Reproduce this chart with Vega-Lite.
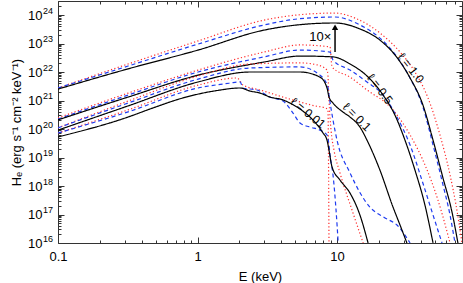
{
  "$schema": "https://vega.github.io/schema/vega-lite/v6.json",
  "width": 404,
  "height": 242,
  "autosize": "none",
  "padding": {"left": 58, "top": 1, "right": 1, "bottom": 40},
  "config": {
    "view": {"stroke": "#333", "strokeWidth": 1},
    "font": "Liberation Sans",
    "axis": {"domain": false, "grid": false, "tickColor": "#333", "tickWidth": 1, "labelColor": "#000", "titleColor": "#000", "labelFont": "Liberation Sans", "titleFont": "Liberation Sans", "labelFontSize": 13, "titleFontSize": 13, "titleFontWeight": "normal"}
  },
  "datasets": {
    "curves": [
      {"l":"1.0","s":"c","E":0.1,"H":2.75e21},{"l":"1.0","s":"c","E":0.318,"H":1.91e22},{"l":"1.0","s":"c","E":1.01,"H":1.23e23},{"l":"1.0","s":"c","E":3.0,"H":6.61e23},{"l":"1.0","s":"c","E":5.17,"H":1.0e24},{"l":"1.0","s":"c","E":9.68,"H":1.17e24},{"l":"1.0","s":"c","E":13.5,"H":7.76e23},{"l":"1.0","s":"c","E":20.3,"H":2.34e23},{"l":"1.0","s":"c","E":28.3,"H":5.01e22},{"l":"1.0","s":"c","E":36.2,"H":1.0e22},{"l":"1.0","s":"c","E":44.9,"H":1.23e21},{"l":"1.0","s":"c","E":54.7,"H":6.17e19},{"l":"1.0","s":"c","E":64.6,"H":2.45e18},{"l":"1.0","s":"c","E":71.3,"H":2.14e17},{"l":"1.0","s":"c","E":78.7,"H":1.0e16},
      {"l":"1.0","s":"b","E":0.1,"H":2.75e21},{"l":"1.0","s":"b","E":0.318,"H":1.62e22},{"l":"1.0","s":"b","E":1.01,"H":9.55e22},{"l":"1.0","s":"b","E":3.0,"H":4.47e23},{"l":"1.0","s":"b","E":5.17,"H":7.24e23},{"l":"1.0","s":"b","E":9.68,"H":8.51e23},{"l":"1.0","s":"b","E":14.6,"H":4.47e23},{"l":"1.0","s":"b","E":20.3,"H":1.55e23},{"l":"1.0","s":"b","E":26.0,"H":4.27e22},{"l":"1.0","s":"b","E":33.4,"H":6.17e21},{"l":"1.0","s":"b","E":41.3,"H":5.89e20},{"l":"1.0","s":"b","E":48.8,"H":2.75e19},{"l":"1.0","s":"b","E":57.5,"H":1.1e18},{"l":"1.0","s":"b","E":64.6,"H":9.55e16},{"l":"1.0","s":"b","E":70.1,"H":1.0e16},
      {"l":"1.0","s":"a","E":0.1,"H":2.51e21},{"l":"1.0","s":"a","E":0.318,"H":1.29e22},{"l":"1.0","s":"a","E":1.01,"H":5.89e22},{"l":"1.0","s":"a","E":3.0,"H":2.95e23},{"l":"1.0","s":"a","E":5.17,"H":4.47e23},{"l":"1.0","s":"a","E":9.68,"H":5.25e23},{"l":"1.0","s":"a","E":14.6,"H":3.24e23},{"l":"1.0","s":"a","E":20.3,"H":1.32e23},{"l":"1.0","s":"a","E":26.0,"H":3.98e22},{"l":"1.0","s":"a","E":33.4,"H":6.17e21},{"l":"1.0","s":"a","E":41.3,"H":6.92e20},{"l":"1.0","s":"a","E":48.8,"H":4.07e19},{"l":"1.0","s":"a","E":57.5,"H":1.91e18},{"l":"1.0","s":"a","E":66.7,"H":1.23e17},{"l":"1.0","s":"a","E":73.6,"H":1.0e16},
      {"l":"0.5","s":"c","E":0.1,"H":2.45e20},{"l":"0.5","s":"c","E":0.318,"H":1.82e21},{"l":"0.5","s":"c","E":1.01,"H":1.17e22},{"l":"0.5","s":"c","E":3.0,"H":5.01e22},{"l":"0.5","s":"c","E":5.43,"H":8.91e22},{"l":"0.5","s":"c","E":8.91,"H":7.59e22},{"l":"0.5","s":"c","E":9.21,"H":1.51e22},{"l":"0.5","s":"c","E":12.4,"H":6.61e21},{"l":"0.5","s":"c","E":16.4,"H":2.34e21},{"l":"0.5","s":"c","E":25.2,"H":4.68e20},{"l":"0.5","s":"c","E":33.4,"H":6.17e19},{"l":"0.5","s":"c","E":42.7,"H":5.5e18},{"l":"0.5","s":"c","E":52.9,"H":3.24e17},{"l":"0.5","s":"c","E":64.6,"H":1.0e16},
      {"l":"0.5","s":"b","E":0.1,"H":2.24e20},{"l":"0.5","s":"b","E":0.318,"H":1.55e21},{"l":"0.5","s":"b","E":1.01,"H":1.0e22},{"l":"0.5","s":"b","E":3.0,"H":3.39e22},{"l":"0.5","s":"b","E":5.43,"H":5.89e22},{"l":"0.5","s":"b","E":8.91,"H":5.01e22},{"l":"0.5","s":"b","E":9.36,"H":2.63e22},{"l":"0.5","s":"b","E":12.4,"H":1.17e22},{"l":"0.5","s":"b","E":16.4,"H":4.47e21},{"l":"0.5","s":"b","E":21.4,"H":1.55e21},{"l":"0.5","s":"b","E":26.9,"H":2.63e20},{"l":"0.5","s":"b","E":33.4,"H":2.75e19},{"l":"0.5","s":"b","E":40.6,"H":1.62e18},{"l":"0.5","s":"b","E":48.0,"H":1.23e17},{"l":"0.5","s":"b","E":56.6,"H":1.0e16},
      {"l":"0.5","s":"a","E":0.1,"H":2.09e20},{"l":"0.5","s":"a","E":0.318,"H":1.32e21},{"l":"0.5","s":"a","E":1.01,"H":7.76e21},{"l":"0.5","s":"a","E":3.0,"H":2.24e22},{"l":"0.5","s":"a","E":5.43,"H":3.63e22},{"l":"0.5","s":"a","E":9.36,"H":3.39e22},{"l":"0.5","s":"a","E":12.4,"H":1.91e22},{"l":"0.5","s":"a","E":16.4,"H":7.24e21},{"l":"0.5","s":"a","E":21.4,"H":1.55e21},{"l":"0.5","s":"a","E":26.0,"H":3.09e20},{"l":"0.5","s":"a","E":30.7,"H":4.07e19},{"l":"0.5","s":"a","E":36.2,"H":3.63e18},{"l":"0.5","s":"a","E":42.7,"H":2.14e17},{"l":"0.5","s":"a","E":48.8,"H":1.0e16},
      {"l":"0.1","s":"c","E":0.1,"H":1.1e20},{"l":"0.1","s":"c","E":0.318,"H":9.55e20},{"l":"0.1","s":"c","E":1.01,"H":7.24e21},{"l":"0.1","s":"c","E":2.38,"H":1.91e22},{"l":"0.1","s":"c","E":5.43,"H":2.09e22},{"l":"0.1","s":"c","E":7.19,"H":1.78e22},{"l":"0.1","s":"c","E":8.48,"H":1.17e22},{"l":"0.1","s":"c","E":8.61,"H":7.76e21},{"l":"0.1","s":"c","E":8.76,"H":1.05e21},{"l":"0.1","s":"c","E":9.06,"H":9.12e19},{"l":"0.1","s":"c","E":9.51,"H":1.82e19},{"l":"0.1","s":"c","E":10.5,"H":2.88e18},{"l":"0.1","s":"c","E":12.8,"H":1.45e17},{"l":"0.1","s":"c","E":15.4,"H":1.0e16},
      {"l":"0.1","s":"b","E":0.1,"H":1.1e20},{"l":"0.1","s":"b","E":0.318,"H":8.13e20},{"l":"0.1","s":"b","E":1.01,"H":5.62e21},{"l":"0.1","s":"b","E":2.38,"H":1.38e22},{"l":"0.1","s":"b","E":5.43,"H":1.51e22},{"l":"0.1","s":"b","E":7.55,"H":7.76e21},{"l":"0.1","s":"b","E":8.61,"H":2.95e21},{"l":"0.1","s":"b","E":8.76,"H":1.55e21},{"l":"0.1","s":"b","E":9.36,"H":2.09e20},{"l":"0.1","s":"b","E":10.0,"H":4.07e19},{"l":"0.1","s":"b","E":12.4,"H":2.88e18},{"l":"0.1","s":"b","E":17.2,"H":1.82e17},{"l":"0.1","s":"b","E":22.1,"H":7.59e16},{"l":"0.1","s":"b","E":26.9,"H":4.27e16},{"l":"0.1","s":"b","E":33.4,"H":1.0e16},
      {"l":"0.1","s":"a","E":0.1,"H":9.12e19},{"l":"0.1","s":"a","E":0.318,"H":6.46e20},{"l":"0.1","s":"a","E":1.01,"H":4.47e21},{"l":"0.1","s":"a","E":2.38,"H":1.0e22},{"l":"0.1","s":"a","E":5.43,"H":1.0e22},{"l":"0.1","s":"a","E":7.55,"H":6.61e21},{"l":"0.1","s":"a","E":8.48,"H":2.75e21},{"l":"0.1","s":"a","E":8.76,"H":1.32e21},{"l":"0.1","s":"a","E":9.36,"H":8.13e20},{"l":"0.1","s":"a","E":11.0,"H":3.98e20},{"l":"0.1","s":"a","E":12.4,"H":2.63e20},{"l":"0.1","s":"a","E":14.6,"H":1.17e20},{"l":"0.1","s":"a","E":16.4,"H":4.07e19},{"l":"0.1","s":"a","E":20.3,"H":3.63e18},{"l":"0.1","s":"a","E":25.2,"H":1.82e17},{"l":"0.1","s":"a","E":28.3,"H":4.27e16},{"l":"0.1","s":"a","E":31.7,"H":1.0e16},
      {"l":"0.01","s":"c","E":0.1,"H":7.24e19},{"l":"0.01","s":"c","E":0.318,"H":4.68e20},{"l":"0.01","s":"c","E":1.01,"H":3.47e21},{"l":"0.01","s":"c","E":1.92,"H":6.17e21},{"l":"0.01","s":"c","E":2.12,"H":3.47e21},{"l":"0.01","s":"c","E":2.81,"H":2.34e21},{"l":"0.01","s":"c","E":4.1,"H":1.32e21},{"l":"0.01","s":"c","E":5.43,"H":8.91e20},{"l":"0.01","s":"c","E":6.95,"H":6.46e20},{"l":"0.01","s":"c","E":8.2,"H":5.5e20},{"l":"0.01","s":"c","E":8.61,"H":4.68e20},{"l":"0.01","s":"c","E":8.76,"H":1.0e16},
      {"l":"0.01","s":"b","E":0.1,"H":7.24e19},{"l":"0.01","s":"b","E":0.318,"H":3.98e20},{"l":"0.01","s":"b","E":1.01,"H":2.75e21},{"l":"0.01","s":"b","E":1.71,"H":4.07e21},{"l":"0.01","s":"b","E":2.02,"H":4.47e21},{"l":"0.01","s":"b","E":2.12,"H":2.75e21},{"l":"0.01","s":"b","E":2.67,"H":2.34e21},{"l":"0.01","s":"b","E":3.31,"H":1.32e21},{"l":"0.01","s":"b","E":4.1,"H":9.55e20},{"l":"0.01","s":"b","E":4.84,"H":3.63e20},{"l":"0.01","s":"b","E":5.43,"H":1.62e20},{"l":"0.01","s":"b","E":6.4,"H":1.17e20},{"l":"0.01","s":"b","E":7.55,"H":9.12e19},{"l":"0.01","s":"b","E":8.48,"H":6.17e19},{"l":"0.01","s":"b","E":8.76,"H":2.75e19},{"l":"0.01","s":"b","E":8.91,"H":1.23e19},{"l":"0.01","s":"b","E":9.36,"H":2.45e18},{"l":"0.01","s":"b","E":9.84,"H":1.45e17},{"l":"0.01","s":"b","E":10.2,"H":1.0e16},
      {"l":"0.01","s":"a","E":0.1,"H":5.25e19},{"l":"0.01","s":"a","E":0.318,"H":2.63e20},{"l":"0.01","s":"a","E":0.456,"H":5.01e20},{"l":"0.01","s":"a","E":0.787,"H":1.23e21},{"l":"0.01","s":"a","E":1.38,"H":2.24e21},{"l":"0.01","s":"a","E":2.02,"H":2.75e21},{"l":"0.01","s":"a","E":2.38,"H":2.14e21},{"l":"0.01","s":"a","E":2.81,"H":1.82e21},{"l":"0.01","s":"a","E":3.31,"H":1.32e21},{"l":"0.01","s":"a","E":4.1,"H":1.05e21},{"l":"0.01","s":"a","E":4.6,"H":8.13e20},{"l":"0.01","s":"a","E":5.43,"H":5.01e20},{"l":"0.01","s":"a","E":6.4,"H":2.63e20},{"l":"0.01","s":"a","E":7.31,"H":1.29e20},{"l":"0.01","s":"a","E":7.94,"H":7.24e19},{"l":"0.01","s":"a","E":8.48,"H":4.07e19},{"l":"0.01","s":"a","E":8.76,"H":1.82e19},{"l":"0.01","s":"a","E":9.21,"H":4.68e18},{"l":"0.01","s":"a","E":10.5,"H":1.62e18},{"l":"0.01","s":"a","E":12.4,"H":5.62e17},{"l":"0.01","s":"a","E":14.6,"H":9.55e16},{"l":"0.01","s":"a","E":16.7,"H":1.0e16}
    ],
    "labels": [
      {"t":"ℓ = 1.0","E":33.9,"H":1.38e22},
      {"t":"ℓ = 0.5","E":20.3,"H":2.51e21},
      {"t":"ℓ = 0.1","E":13.9,"H":2.63e20},
      {"t":"ℓ = 0.01","E":6.2,"H":3.63e20}
    ]
  },
  "layer": [
    {
      "data": {"name": "curves"},
      "mark": {"type": "line", "strokeWidth": 1.2, "clip": true, "interpolate": "monotone"},
      "encoding": {
        "x": {"field": "E", "type": "quantitative", "scale": {"type": "log", "domain": [0.1, 78.7], "nice": false},
              "axis": {"orient": "bottom", "values": [0.1, 1, 10], "tickSize": -6, "labelPadding": 13, "labelExpr": "datum.value < 0.5 ? '0.1' : format(datum.value, 'd')", "title": "E (keV)", "titlePadding": 7, "labelFlush": false}},
        "y": {"field": "H", "type": "quantitative", "scale": {"type": "log", "domain": [1e16, 3.1e24], "nice": false},
              "axis": {"orient": "left", "values": [1e16, 1e17, 1e18, 1e19, 1e20, 1e21, 1e22, 1e23, 1e24], "tickSize": -6, "labelPadding": 22, "labelExpr": "'10'", "title": "Hₑ (erg s⁻¹ cm⁻² keV⁻¹)", "titlePadding": 4, "labelFlush": false}},
        "detail": {"field": "l"},
        "color": {"field": "s", "type": "nominal", "scale": {"domain": ["a", "b", "c"], "range": ["#000000", "#1f3cf0", "#ff2b2b"]}, "legend": null},
        "strokeDash": {"field": "s", "type": "nominal", "scale": {"domain": ["a", "b", "c"], "range": [[1, 0], [4, 3], [1.2, 2.3]]}, "legend": null}
      }
    },
    {
      "data": {"name": "curves"},
      "mark": {"type": "point", "opacity": 0},
      "encoding": {
        "x": {"field": "E", "type": "quantitative", "scale": {"type": "log", "domain": [0.1, 78.7], "nice": false},
              "axis": {"orient": "bottom", "values": [0.2,0.3,0.4,0.5,0.6,0.7,0.8,0.9,2,3,4,5,6,7,8,9,20,30,40,50,60,70], "tickSize": -3, "labels": false, "title": null}},
        "y": {"field": "H", "type": "quantitative", "scale": {"type": "log", "domain": [1e16, 3.1e24], "nice": false},
              "axis": {"orient": "left", "values": [2e16,3e16,4e16,5e16,6e16,7e16,8e16,9e16,2e17,3e17,4e17,5e17,6e17,7e17,8e17,9e17,2e18,3e18,4e18,5e18,6e18,7e18,8e18,9e18,2e19,3e19,4e19,5e19,6e19,7e19,8e19,9e19,2e20,3e20,4e20,5e20,6e20,7e20,8e20,9e20,2e21,3e21,4e21,5e21,6e21,7e21,8e21,9e21,2e22,3e22,4e22,5e22,6e22,7e22,8e22,9e22,2e23,3e23,4e23,5e23,6e23,7e23,8e23,9e23,2e24,3e24], "tickSize": -3, "labels": false, "title": null}}
      }
    },
    {
      "data": {"name": "curves"},
      "mark": {"type": "point", "opacity": 0},
      "encoding": {
        "x": {"field": "E", "type": "quantitative", "scale": {"type": "log", "domain": [0.1, 78.7], "nice": false},
              "axis": {"orient": "top", "values": [0.1, 1, 10], "tickSize": -6, "labels": false, "title": null}},
        "y": {"field": "H", "type": "quantitative", "scale": {"type": "log", "domain": [1e16, 3.1e24], "nice": false},
              "axis": {"orient": "right", "values": [1e16, 1e17, 1e18, 1e19, 1e20, 1e21, 1e22, 1e23, 1e24], "tickSize": -6, "labels": false, "title": null}}
      }
    },
    {
      "data": {"name": "curves"},
      "mark": {"type": "point", "opacity": 0},
      "encoding": {
        "x": {"field": "E", "type": "quantitative", "scale": {"type": "log", "domain": [0.1, 78.7], "nice": false},
              "axis": {"orient": "top", "values": [0.2,0.3,0.4,0.5,0.6,0.7,0.8,0.9,2,3,4,5,6,7,8,9,20,30,40,50,60,70], "tickSize": -3, "labels": false, "title": null}},
        "y": {"field": "H", "type": "quantitative", "scale": {"type": "log", "domain": [1e16, 3.1e24], "nice": false},
              "axis": {"orient": "right", "values": [2e16,3e16,4e16,5e16,6e16,7e16,8e16,9e16,2e17,3e17,4e17,5e17,6e17,7e17,8e17,9e17,2e18,3e18,4e18,5e18,6e18,7e18,8e18,9e18,2e19,3e19,4e19,5e19,6e19,7e19,8e19,9e19,2e20,3e20,4e20,5e20,6e20,7e20,8e20,9e20,2e21,3e21,4e21,5e21,6e21,7e21,8e21,9e21,2e22,3e22,4e22,5e22,6e22,7e22,8e22,9e22,2e23,3e23,4e23,5e23,6e23,7e23,8e23,9e23,2e24,3e24], "tickSize": -3, "labels": false, "title": null}}
      }
    },
    {
      "data": {"name": "curves"},
      "mark": {"type": "point", "opacity": 0},
      "encoding": {
        "y": {"field": "H", "type": "quantitative", "scale": {"type": "log", "domain": [1e16, 3.1e24], "nice": false},
              "axis": {"orient": "left", "values": [1e16, 1e17, 1e18, 1e19, 1e20, 1e21, 1e22, 1e23, 1e24], "ticks": false, "labelPadding": 15.5, "labelAlign": "left", "labelOffset": -5, "labelFontSize": 9, "labelExpr": "format(round(log(datum.value)/LN10), 'd')", "title": null, "labelFlush": false}}
      }
    },
    {
      "data": {"values": [{"E": 9.68, "H": 5.0e22, "H2": 3.2e23}]},
      "mark": {"type": "rule", "strokeWidth": 1.5, "color": "#000"},
      "encoding": {
        "x": {"field": "E", "type": "quantitative", "axis": null},
        "y": {"field": "H", "type": "quantitative", "axis": null},
        "y2": {"field": "H2"}
      }
    },
    {
      "data": {"values": [{"E": 9.68, "H": 3.7e23}]},
      "mark": {"type": "point", "shape": "triangle-up", "filled": true, "size": 40, "color": "#000", "opacity": 1},
      "encoding": {
        "x": {"field": "E", "type": "quantitative", "axis": null},
        "y": {"field": "H", "type": "quantitative", "axis": null}
      }
    },
    {
      "data": {"values": [{"t": "10×", "E": 9.1, "H": 1.7e23}]},
      "mark": {"type": "text", "align": "right", "baseline": "middle", "fontSize": 13, "font": "Liberation Sans"},
      "encoding": {
        "x": {"field": "E", "type": "quantitative", "axis": null},
        "y": {"field": "H", "type": "quantitative", "axis": null},
        "text": {"field": "t"}
      }
    },
    {
      "data": {"name": "labels"},
      "transform": [{"filter": "datum.t == 'ℓ = 1.0'"}],
      "mark": {"type": "text", "angle": 52, "align": "center", "baseline": "middle", "fontSize": 12, "font": "Liberation Sans"},
      "encoding": {"x": {"field": "E", "type": "quantitative", "axis": null}, "y": {"field": "H", "type": "quantitative", "axis": null}, "text": {"field": "t"}}
    },
    {
      "data": {"name": "labels"},
      "transform": [{"filter": "datum.t == 'ℓ = 0.5'"}],
      "mark": {"type": "text", "angle": 53, "align": "center", "baseline": "middle", "fontSize": 12, "font": "Liberation Sans"},
      "encoding": {"x": {"field": "E", "type": "quantitative", "axis": null}, "y": {"field": "H", "type": "quantitative", "axis": null}, "text": {"field": "t"}}
    },
    {
      "data": {"name": "labels"},
      "transform": [{"filter": "datum.t == 'ℓ = 0.1'"}],
      "mark": {"type": "text", "angle": 45, "align": "center", "baseline": "middle", "fontSize": 12, "font": "Liberation Sans"},
      "encoding": {"x": {"field": "E", "type": "quantitative", "axis": null}, "y": {"field": "H", "type": "quantitative", "axis": null}, "text": {"field": "t"}}
    },
    {
      "data": {"name": "labels"},
      "transform": [{"filter": "datum.t == 'ℓ = 0.01'"}],
      "mark": {"type": "text", "angle": 39, "align": "center", "baseline": "middle", "fontSize": 12, "font": "Liberation Sans"},
      "encoding": {"x": {"field": "E", "type": "quantitative", "axis": null}, "y": {"field": "H", "type": "quantitative", "axis": null}, "text": {"field": "t"}}
    }
  ],
  "resolve": {"axis": {"x": "independent", "y": "independent"}}
}
